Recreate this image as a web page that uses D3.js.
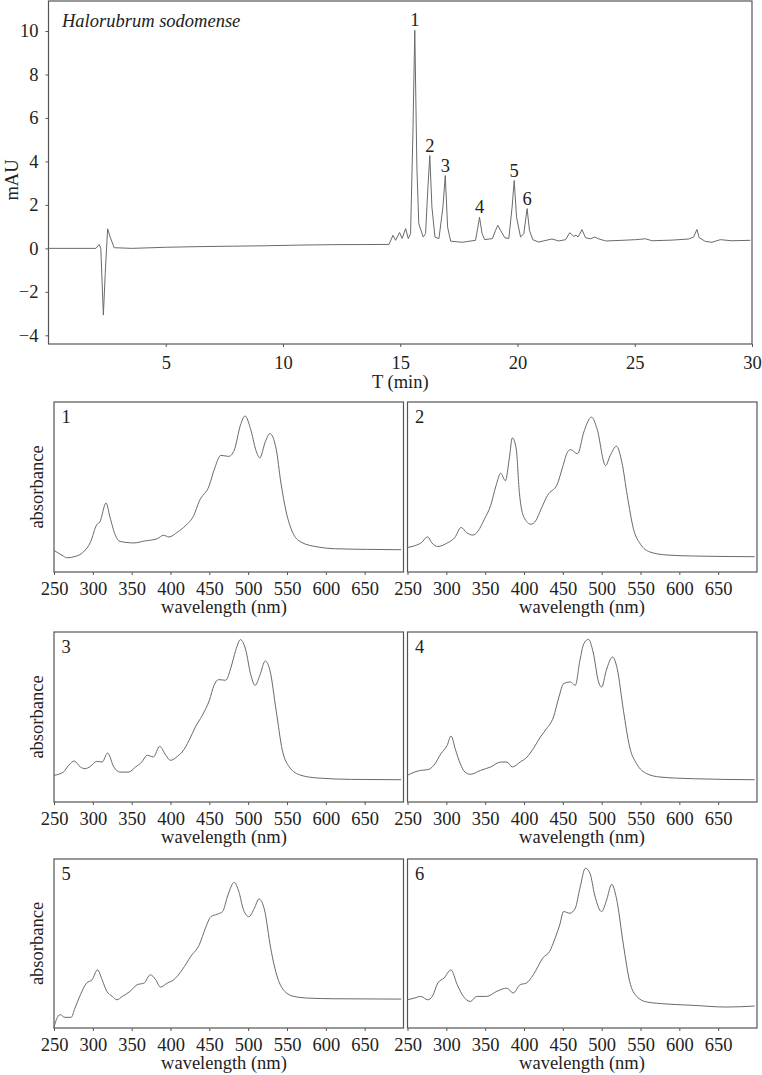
<!DOCTYPE html>
<html>
<head>
<meta charset="utf-8">
<script src="https://cdn.jsdelivr.net/npm/d3@7"></script>
<style>
  body { margin: 0; background: #fff; }
  svg { display: block; }
  text { font-family: "Liberation Serif", "Times New Roman", serif; fill: #222; }
</style>
</head>
<body>
<svg class="fig"></svg>
<script>
const svgWidth = 762;
const svgHeight = 1075;

// chromatogram, [time (min), mAU]
const chromTime = [0, 2.02, 2.16, 2.23, 2.34, 2.42, 2.52, 2.63, 2.8, 3.57, 5, 6.42, 7.84, 9.26, 10.68, 12.1, 14.52,
  14.69, 14.8, 14.97, 15.08, 15.23, 15.34, 15.44, 15.54, 15.62, 15.71, 15.79, 15.98, 16.08, 16.18, 16.26, 16.35,
  16.48, 16.65, 16.82, 16.92, 17.02, 17.15, 17.64, 18.21, 18.31, 18.38, 18.49, 18.6, 18.93, 19.06, 19.16, 19.28,
  19.46, 19.63, 19.77, 19.86, 19.96, 20.13, 20.27, 20.41, 20.51, 20.65, 20.9, 21.47, 21.76, 22.05, 22.23, 22.4,
  22.5, 22.58, 22.75, 22.9, 23.11, 23.29, 23.46, 23.76, 24.46, 25.03, 25.45, 25.74, 26.59, 27.3, 27.51, 27.65,
  27.75, 28.01, 28.29, 28.65, 29.14, 29.93];
const chromMAU = [0, 0, 0.18, 0, -3.07, -1.16, 0.9, 0.52, 0.03, 0, 0.05, 0.08, 0.1, 0.12, 0.15, 0.17, 0.18,
  0.6, 0.37, 0.73, 0.46, 0.91, 0.45, 0.68, 5.3, 10.03, 3.7, 1.14, 0.52, 0.68, 2.8, 4.27, 1.9,
  0.52, 0.45, 1.9, 3.35, 0.97, 0.33, 0.28, 0.37, 0.97, 1.43, 0.68, 0.4, 0.45, 0.82, 1.06, 0.82,
  0.49, 0.45, 1.9, 3.12, 1.43, 0.52, 0.68, 1.83, 0.83, 0.4, 0.29, 0.43, 0.34, 0.4, 0.72, 0.55,
  0.61, 0.52, 0.86, 0.49, 0.44, 0.52, 0.44, 0.34, 0.37, 0.4, 0.44, 0.35, 0.38, 0.43, 0.52, 0.87,
  0.49, 0.32, 0.28, 0.4, 0.35, 0.37];

const peakLabels = ["1", "2", "3", "4", "5", "6"];
const peakTimes = [15.62, 16.26, 16.92, 18.38, 19.86, 20.41];
const peakMAU = [10.03, 4.27, 3.35, 1.43, 3.12, 1.83];

const chromXTicks = [5, 10, 15, 20, 25, 30];
const chromYTicks = [-4, -2, 0, 2, 4, 6, 8, 10];

// absorption spectra of peaks 1-6, wavelength (nm) and relative absorbance
const spec1Wl = [250, 262, 266, 279, 288, 297, 305, 309, 317, 322, 329, 335, 353, 366, 383, 391, 398, 409, 419, 430,
  437, 450, 456, 465, 475, 482, 490, 496, 503, 510, 515, 522, 528, 536, 542, 549, 557, 568, 590, 611, 654, 697];
const spec1Abs = [0.127, 0.094, 0.084, 0.094, 0.118, 0.176, 0.278, 0.294, 0.406, 0.324, 0.216, 0.18, 0.171, 0.182,
  0.196, 0.216, 0.206, 0.235, 0.271, 0.333, 0.416, 0.51, 0.598, 0.686, 0.68, 0.716, 0.863, 0.918, 0.843, 0.716,
  0.671, 0.765, 0.814, 0.725, 0.529, 0.353, 0.235, 0.176, 0.147, 0.137, 0.133, 0.131];

const spec2Wl = [250, 259, 268, 276, 281, 289, 302, 311, 319, 326, 334, 341, 349, 357, 364, 370, 376, 381, 385, 390,
  394, 400, 409, 415, 422, 430, 443, 449, 456, 460, 469, 477, 487, 494, 505, 511, 519, 526, 533, 541, 550, 562,
  584, 618, 697];
const spec2Abs = [0.144, 0.154, 0.173, 0.207, 0.173, 0.15, 0.173, 0.203, 0.262, 0.232, 0.217, 0.242, 0.311, 0.39,
  0.508, 0.581, 0.537, 0.665, 0.789, 0.724, 0.469, 0.321, 0.281, 0.301, 0.37, 0.449, 0.518, 0.606, 0.705, 0.72,
  0.695, 0.823, 0.911, 0.843, 0.626, 0.685, 0.74, 0.646, 0.449, 0.252, 0.163, 0.118, 0.1, 0.094, 0.09];

const spec3Wl = [250, 262, 269, 276, 284, 290, 297, 305, 312, 319, 327, 335, 346, 355, 363, 370, 378, 386, 394, 400,
  409, 415, 424, 432, 441, 450, 456, 462, 471, 478, 484, 490, 497, 503, 509, 515, 522, 528, 536, 544, 553, 568,
  590, 633, 697];
const spec3Abs = [0.157, 0.176, 0.216, 0.241, 0.206, 0.196, 0.21, 0.239, 0.235, 0.288, 0.206, 0.176, 0.176, 0.206,
  0.235, 0.275, 0.265, 0.327, 0.275, 0.245, 0.269, 0.294, 0.363, 0.441, 0.51, 0.598, 0.686, 0.72, 0.716, 0.794,
  0.892, 0.955, 0.892, 0.755, 0.686, 0.745, 0.829, 0.775, 0.539, 0.304, 0.206, 0.157, 0.141, 0.133, 0.131];

const spec4Wl = [250, 259, 267, 276, 284, 293, 301, 306, 312, 318, 324, 331, 344, 357, 370, 378, 385, 395, 404, 412,
  421, 429, 438, 445, 451, 460, 466, 472, 477, 483, 489, 496, 500, 506, 514, 520, 528, 536, 545, 558, 575, 618, 697];
const spec4Abs = [0.157, 0.176, 0.186, 0.19, 0.216, 0.284, 0.333, 0.388, 0.304, 0.225, 0.176, 0.163, 0.186, 0.206,
  0.235, 0.235, 0.206, 0.235, 0.265, 0.314, 0.382, 0.431, 0.5, 0.618, 0.696, 0.706, 0.686, 0.833, 0.931, 0.957,
  0.882, 0.706, 0.676, 0.775, 0.853, 0.784, 0.539, 0.324, 0.225, 0.167, 0.147, 0.137, 0.131];

const spec5Wl = [250, 253, 258, 264, 272, 277, 284, 292, 299, 306, 312, 318, 325, 331, 338, 348, 357, 366, 374, 381,
  387, 396, 404, 415, 426, 437, 445, 452, 460, 467, 474, 482, 488, 494, 501, 508, 514, 521, 529, 538, 547, 559,
  577, 611, 697];
const spec5Abs = [0.004, 0.049, 0.079, 0.063, 0.063, 0.118, 0.197, 0.266, 0.285, 0.344, 0.285, 0.217, 0.187, 0.167,
  0.187, 0.217, 0.256, 0.266, 0.315, 0.285, 0.242, 0.266, 0.285, 0.344, 0.423, 0.492, 0.591, 0.659, 0.673, 0.689,
  0.787, 0.862, 0.807, 0.699, 0.659, 0.709, 0.764, 0.699, 0.472, 0.295, 0.217, 0.187, 0.177, 0.173, 0.171];

const spec6Wl = [250, 259, 267, 276, 282, 289, 297, 306, 314, 322, 331, 339, 352, 365, 378, 386, 395, 403, 412, 418,
  424, 433, 440, 446, 451, 459, 466, 472, 479, 485, 491, 500, 506, 513, 519, 528, 536, 545, 558, 584, 618, 661, 697];
const spec6Abs = [0.167, 0.177, 0.187, 0.167, 0.187, 0.266, 0.295, 0.344, 0.256, 0.187, 0.157, 0.187, 0.187, 0.217,
  0.236, 0.207, 0.256, 0.266, 0.315, 0.364, 0.413, 0.453, 0.531, 0.61, 0.689, 0.679, 0.709, 0.827, 0.945, 0.915,
  0.787, 0.689, 0.752, 0.85, 0.768, 0.492, 0.276, 0.187, 0.154, 0.142, 0.134, 0.124, 0.13];

const spectraWl = [spec1Wl, spec2Wl, spec3Wl, spec4Wl, spec5Wl, spec6Wl];
const spectraAbs = [spec1Abs, spec2Abs, spec3Abs, spec4Abs, spec5Abs, spec6Abs];
const specTicks = [250, 300, 350, 400, 450, 500, 550, 600, 650];

// layout
const chromBox = {left: 48.5, right: 752, top: 1, bottom: 344};
const colLeft = [54, 407.5];
const colRight = [403.5, 757];
const rowTop = [402, 632, 859];
const rowBottom = [572, 802, 1028];
const wlLabelX = [224, 582];

const lineColor = "#6a6a6a";
const frameColor = "#555";
const fontSize = "18.5px";

const svg = d3.select(".fig")
  .attr("width", svgWidth)
  .attr("height", svgHeight);

// ---- chromatogram ----
const x = d3.scaleLinear().domain([0, 30]).range([chromBox.left, chromBox.right]);
const y = d3.scaleLinear().domain([-4.4, 11.38]).range([chromBox.bottom, chromBox.top]);

svg.append("rect")
  .attr("x", chromBox.left).attr("y", chromBox.top)
  .attr("width", chromBox.right - chromBox.left).attr("height", chromBox.bottom - chromBox.top)
  .attr("fill", "none").attr("stroke", frameColor).attr("stroke-width", 1.2);

const xAx = svg.append("g")
  .attr("transform", `translate(0, ${chromBox.bottom})`)
  .call(d3.axisBottom(x).tickValues(chromXTicks).tickSize(3).tickPadding(9));
const yAx = svg.append("g")
  .attr("transform", `translate(${chromBox.left}, 0)`)
  .call(d3.axisLeft(y).tickValues(chromYTicks).tickSize(3).tickPadding(7));
[xAx, yAx].forEach(g => {
  g.select(".domain").remove();
  g.selectAll("line").attr("stroke", frameColor);
  g.selectAll("text").style("font-size", fontSize).attr("font-family", null).attr("fill", "#222");
});

const chromData = chromTime.map((t, i) => [t, chromMAU[i]]);
svg.append("path")
  .attr("d", d3.line().x(d => x(d[0])).y(d => y(d[1]))(chromData))
  .attr("fill", "none")
  .attr("stroke", lineColor)
  .attr("stroke-width", 1);

svg.selectAll(".peak-label")
  .data(peakLabels)
  .join("text")
  .attr("class", "peak-label")
  .attr("x", (d, i) => x(peakTimes[i]))
  .attr("y", (d, i) => y(peakMAU[i]) - 4)
  .attr("text-anchor", "middle")
  .style("font-size", fontSize)
  .text(d => d);

svg.append("text")
  .attr("x", 62).attr("y", 27)
  .style("font-size", fontSize)
  .style("font-style", "italic")
  .text("Halorubrum sodomense");

svg.append("text")
  .attr("x", (chromBox.left + chromBox.right) / 2).attr("y", 388)
  .attr("text-anchor", "middle")
  .style("font-size", fontSize)
  .text("T (min)");

svg.append("text")
  .attr("text-anchor", "middle")
  .attr("transform", `translate(18, 180) rotate(-90)`)
  .style("font-size", fontSize)
  .text("mAU");

// ---- spectra ----
spectraWl.forEach((wl, i) => {
  const col = i % 2;
  const row = Math.floor(i / 2);
  const sx = d3.scaleLinear().domain([250, 700]).range([colLeft[col], colRight[col]]);
  const sy = d3.scaleLinear().domain([0, 1]).range([rowBottom[row], rowTop[row]]);

  const g = svg.append("g").attr("class", "spectrum");

  g.append("rect")
    .attr("x", colLeft[col]).attr("y", rowTop[row])
    .attr("width", colRight[col] - colLeft[col]).attr("height", rowBottom[row] - rowTop[row])
    .attr("fill", "none").attr("stroke", frameColor).attr("stroke-width", 1.2);

  const ax = g.append("g")
    .attr("transform", `translate(0, ${rowBottom[row]})`)
    .call(d3.axisBottom(sx).tickValues(specTicks).tickSize(3).tickPadding(7));
  ax.select(".domain").remove();
  ax.selectAll("line").attr("stroke", frameColor);
  ax.selectAll("text").style("font-size", fontSize).attr("font-family", null).attr("fill", "#222");

  const pts = wl.map((w, j) => [w, spectraAbs[i][j]]);
  g.append("path")
    .attr("d", d3.line().x(d => sx(d[0])).y(d => sy(d[1])).curve(d3.curveMonotoneX)(pts))
    .attr("fill", "none")
    .attr("stroke", lineColor)
    .attr("stroke-width", 1);

  g.append("text")
    .attr("x", colLeft[col] + 12).attr("y", rowTop[row] + 21)
    .attr("text-anchor", "middle")
    .style("font-size", fontSize)
    .text(peakLabels[i]);

  g.append("text")
    .attr("x", wlLabelX[col]).attr("y", rowBottom[row] + 41)
    .attr("text-anchor", "middle")
    .style("font-size", fontSize)
    .text("wavelength (nm)");

  if (col === 0) {
    g.append("text")
      .attr("text-anchor", "middle")
      .attr("transform", `translate(43, ${(rowTop[row] + rowBottom[row]) / 2}) rotate(-90)`)
      .style("font-size", fontSize)
      .text("absorbance");
  }
});
</script>
</body>
</html>
